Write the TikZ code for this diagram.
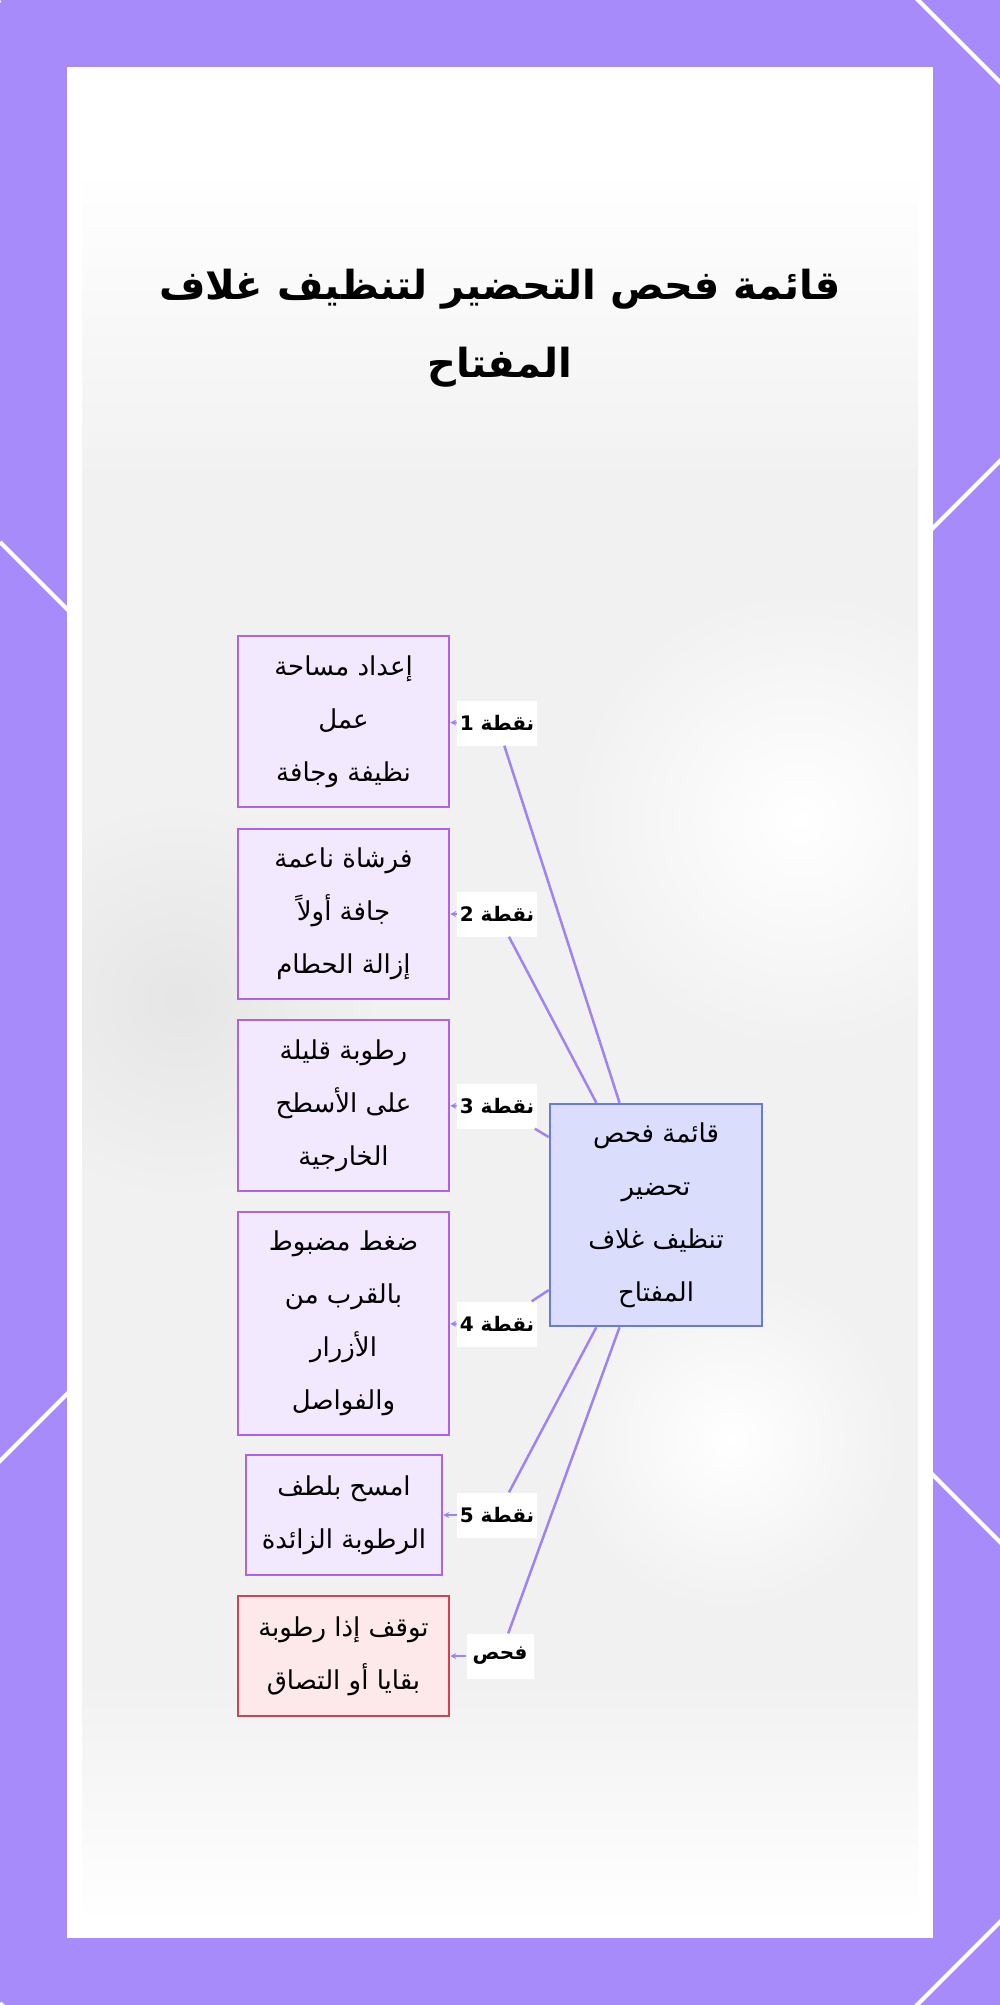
\documentclass[tikz,border=0pt]{standalone}
\usepackage{fontspec}
\newfontfamily\arabicfont[Script=Arabic]{DejaVu Sans}
\TeXXeTstate=1
\usetikzlibrary{arrows.meta}
\definecolor{framepurple}{RGB}{167,139,250}
\definecolor{linkpurple}{RGB}{160,130,242}
\definecolor{stepfill}{RGB}{243,233,254}
\definecolor{stepdraw}{RGB}{172,98,236}
\definecolor{hubfill}{RGB}{218,222,252}
\definecolor{hubdraw}{RGB}{104,122,222}
\definecolor{stopfill}{RGB}{253,232,234}
\definecolor{stopdraw}{RGB}{214,64,80}
\newcommand{\ar}[1]{\beginR #1\endR}
\def\panel{(67,67) rectangle (933,1938)}
\def\photo{(82,170) rectangle (918,1922)}

\begin{document}
\begin{tikzpicture}[x=1pt,y=-1pt,
    stepbox/.style={draw=stepdraw,fill=stepfill,line width=2.5pt,align=center,
        minimum width=211,font=\arabicfont\fontsize{26}{53}\selectfont},
    hubbox/.style={stepbox,draw=hubdraw,fill=hubfill,minimum width=212,minimum height=222},
    stopbox/.style={stepbox,draw=stopdraw,fill=stopfill,minimum height=120},
    tag/.style={fill=white,inner sep=3pt,minimum width=67,minimum height=45,
        font=\arabicfont\bfseries\fontsize{20}{22}\selectfont},
    link/.style={draw=linkpurple,line width=2.5pt},
    tip/.style={link,line width=2pt,-{Stealth[length=6pt,width=6pt]}}]
    \useasboundingbox (0,0) rectangle (1000,2005);
    % frame with diagonal stripes
    \fill[framepurple] (0,0) rectangle (1000,2005);
    \begin{scope}
        \clip (0,0) rectangle (1000,2005);
        \foreach \k in {0,1461,2922}
            \draw[white,line width=4pt] (\k,0) -- ++(-2100,2100);
        \foreach \k in {-918,542,2003}
            \draw[white,line width=4pt] (0,\k) -- ++(2100,2100);
    \end{scope}
    \fill[white] \panel;
    % blurred photo behind the chart
    \shade[top color=white,bottom color=gray!11] (82,170) rectangle (918,480);
    \fill[gray!11] (82,480) rectangle (918,1680);
    \shade[top color=gray!11,bottom color=white] (82,1680) rectangle (918,1922);
    \begin{scope}
        \clip \photo;
        \shade[inner color=white,outer color=gray!11] (800,820) circle (230);
        \shade[inner color=white,outer color=gray!11] (730,1440) circle (170);
        \shade[inner color=gray!20,outer color=gray!11] (180,1000) circle (200);
    \end{scope}

    \node[font=\arabicfont\bfseries\fontsize{40}{78}\selectfont,align=center] (title) at (500,328)
        {\ar{قائمة فحص التحضير لتنظيف غلاف}\\\ar{المفتاح}};

    \node[stepbox,minimum height=171] (b1) at (343.5,721.5)
        {\ar{إعداد مساحة}\\\ar{عمل}\\\ar{نظيفة وجافة}};
    \node[stepbox,minimum height=170] (b2) at (343.5,914)
        {\ar{فرشاة ناعمة}\\\ar{جافة أولاً}\\\ar{إزالة الحطام}};
    \node[stepbox,minimum height=171] (b3) at (343.5,1105.5)
        {\ar{رطوبة قليلة}\\\ar{على الأسطح}\\\ar{الخارجية}};
    \node[stepbox,minimum height=223] (b4) at (343.5,1323.5)
        {\ar{ضغط مضبوط}\\\ar{بالقرب من}\\\ar{الأزرار}\\\ar{والفواصل}};
    \node[stepbox,minimum width=196,minimum height=120] (b5) at (344,1515)
        {\ar{امسح بلطف}\\\ar{الرطوبة الزائدة}};
    \node[stopbox] (check) at (343.5,1656)
        {\ar{توقف إذا رطوبة}\\\ar{بقايا أو التصاق}};
    \node[hubbox] (hub) at (656,1215)
        {\ar{قائمة فحص}\\\ar{تحضير}\\\ar{تنظيف غلاف}\\\ar{المفتاح}};

    \node[tag] (l1) at (497,723) {\ar{نقطة 1}};
    \node[tag] (l2) at (497,914) {\ar{نقطة 2}};
    \node[tag] (l3) at (497,1106) {\ar{نقطة 3}};
    \node[tag] (l4) at (497,1324) {\ar{نقطة 4}};
    \node[tag] (l5) at (497,1515) {\ar{نقطة 5}};
    \node[tag] (l6) at (500,1656) {\ar{فحص}};

    \draw[link] (hub.108) -- (l1);
    \draw[link] (hub.118) -- (l2);
    \draw[link] (hub.144) -- (l3);
    \draw[link] (hub.215) -- (l4);
    \draw[link] (hub.242) -- (l5);
    \draw[link] (hub.252) -- (l6);
    \draw[tip] (l1) -- (b1);
    \draw[tip] (l2) -- (b2);
    \draw[tip] (l3) -- (b3);
    \draw[tip] (l4) -- (b4);
    \draw[tip] (l5) -- (b5);
    \draw[tip] (l6) -- (check);
\end{tikzpicture}
\end{document}
